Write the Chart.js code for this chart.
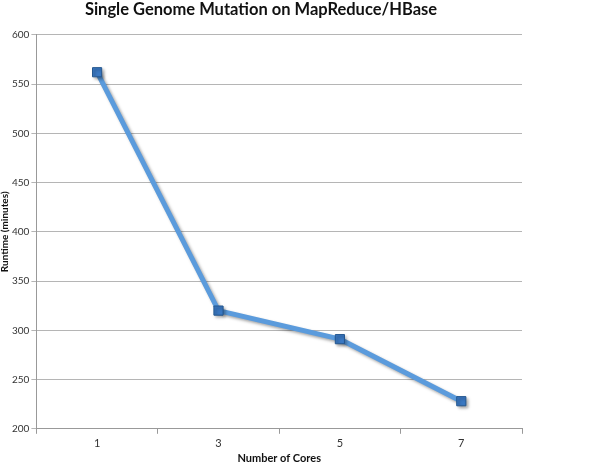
<!DOCTYPE html>
<html>
<head>
<meta charset="utf-8">
<script src="https://cdn.jsdelivr.net/npm/chart.js"></script>
<style>
  html, body { margin: 0; padding: 0; background: #fff; }
  #wrap { width: 600px; height: 464px; }
</style>
</head>
<body>
<div id="wrap"><canvas id="chart" width="600" height="464"></canvas></div>
<script>
// datos
const cores = ['1', '3', '5', '7'];
const runtimeMin = [562, 320, 291, 228];
const yTicks = [200, 250, 300, 350, 400, 450, 500, 550, 600];

// sombra suave bajo la linea y los marcadores
const shadowPlugin = {
    id: 'shadow',
    beforeDatasetsDraw(chart) {
        const ctx = chart.ctx;
        ctx.save();
        ctx.shadowColor = 'rgba(0,0,0,0.35)';
        ctx.shadowBlur = 3;
        ctx.shadowOffsetX = 2;
        ctx.shadowOffsetY = 2;
    },
    afterDatasetsDraw(chart) {
        chart.ctx.restore();
    }
};

const font = 'Lato, "Liberation Sans", sans-serif';

new Chart(document.getElementById('chart'), {
    type: 'line',
    data: {
        labels: cores,
        datasets: [{
            data: runtimeMin,
            borderColor: '#5b9bdc',
            borderWidth: 5,
            tension: 0,
            pointStyle: 'rect',
            pointRadius: 6.5,
            pointHoverRadius: 6.5,
            pointBackgroundColor: '#3a78c2',
            pointBorderColor: '#24578f',
            pointBorderWidth: 1
        }]
    },
    options: {
        responsive: false,
        animation: false,
        layout: { padding: { left: 0, right: 78, top: 0, bottom: 0 } },
        plugins: {
            legend: { display: false },
            tooltip: { enabled: false },
            title: {
                display: true,
                text: 'Single Genome Mutation on MapReduce/HBase',
                color: '#111',
                font: { family: font, size: 16.5, weight: 'bold' },
                padding: { top: 0, bottom: 15 }
            }
        },
        scales: {
            x: {
                offset: true,
                grid: { offset: true, drawOnChartArea: false, tickLength: 5, color: '#999' },
                border: { color: '#999' },
                ticks: { color: '#333', font: { family: font, size: 11 }, padding: 3 },
                title: {
                    display: true,
                    text: 'Number of Cores',
                    color: '#111',
                    font: { family: font, size: 11, weight: 'bold', lineHeight: 1 },
                    padding: { top: 0, bottom: 0 }
                }
            },
            y: {
                min: 200,
                max: 600,
                afterBuildTicks(axis) {
                    axis.ticks = yTicks.map(v => ({ value: v }));
                },
                grid: { color: '#b5b5b5', tickLength: 5 },
                border: { color: '#999' },
                ticks: { color: '#333', font: { family: font, size: 10 }, padding: 2 },
                title: {
                    display: true,
                    text: 'Runtime (minutes)',
                    color: '#111',
                    font: { family: font, size: 10, weight: 'bold', lineHeight: 1 },
                    padding: { top: 0, bottom: 0 }
                }
            }
        }
    },
    plugins: [shadowPlugin]
});
</script>
</body>
</html>
